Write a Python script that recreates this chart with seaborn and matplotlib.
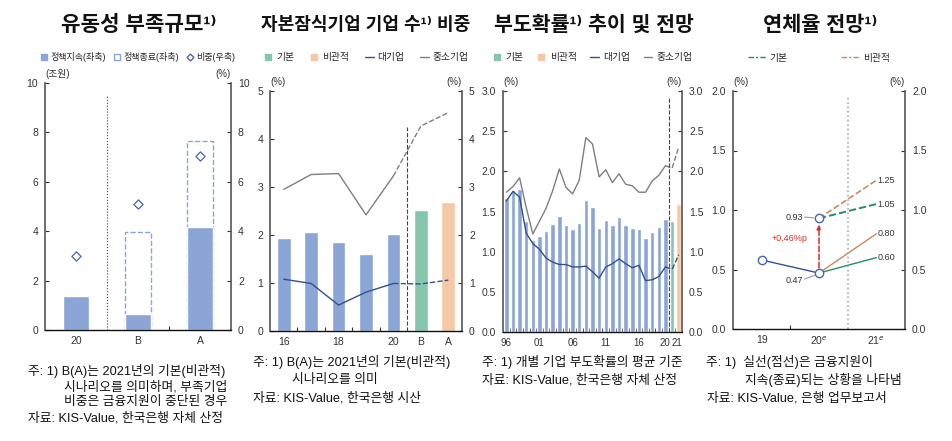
import numpy as np
import matplotlib
matplotlib.use('Agg')
import matplotlib.pyplot as plt
from matplotlib.lines import Line2D
import seaborn as sns

# 패널 1: 유동성 부족규모
p1_cats = ['20', 'B', 'A']
p1_keep = [1.38, 0.63, 4.18]      # 정책지속(좌축)
p1_stop = [3.95, 7.65]            # 정책종료(좌축), B·A
p1_share = [3.0, 5.12, 7.05]      # 비중(우축)

# 패널 2: 자본잠식기업 기업 수 비중
p2_cats = ['16', '17', '18', '19', '20', 'B', 'A']
p2_bars = [1.94, 2.06, 1.85, 1.60, 2.03, 2.52, 2.69]
p2_large = [1.08, 0.99, 0.54, 0.81, 0.99, 0.98, 1.06]
p2_sme = [2.95, 3.26, 3.28, 2.42, 3.23, 4.27, 4.55]

# 패널 3: 부도확률 추이 및 전망 (1996~2020, 2021 기본, 2021 비관적)
p3_years = [str(y) for y in range(1996, 2021)] + ['2021기본', '2021비관']
p3_bars = [1.67, 1.77, 1.78, 1.38, 1.15, 1.20, 1.26, 1.34, 1.45, 1.33,
           1.28, 1.36, 1.64, 1.55, 1.29, 1.40, 1.33, 1.43, 1.33, 1.30,
           1.28, 1.17, 1.24, 1.31, 1.41, 1.38, 1.59]
p3_large = [1.63, 1.75, 1.68, 1.23, 1.10, 1.03, 0.92, 0.87, 0.84, 0.84,
            0.81, 0.81, 0.82, 0.75, 0.67, 0.81, 0.85, 0.91, 0.85, 0.80,
            0.83, 0.64, 0.65, 0.69, 0.81, 0.78, 0.96]
p3_sme = [1.74, 1.81, 1.92, 1.55, 1.22, 1.38, 1.54, 1.76, 2.03, 1.80,
          1.72, 1.89, 2.42, 2.34, 1.93, 2.02, 1.86, 1.97, 1.84, 1.82,
          1.74, 1.74, 1.88, 1.95, 2.07, 2.04, 2.30]
p3_ticklabels = ['96', '01', '06', '11', '16', '20', '21']

# 패널 4: 연체율 전망
p4_cats = ['19', '20$^{e}$', '21$^{e}$']
p4_actual = [0.58, 0.47]
p4_end20 = 0.93
p4_base = [0.60, 1.05]   # 실선(지속), 점선(종료)
p4_pess = [0.80, 1.25]

BLUE = '#8aa5d6'
GREEN = '#86c5ae'
ORANGE = '#f6c9a6'
NAVY = '#34508f'
GRAY = '#7f7f7f'
TEAL = '#2a8a6c'
BROWN = '#c98a5c'

sns.set_theme(style='white')
plt.rcParams['font.family'] = ['Liberation Sans', 'Noto Sans CJK KR', 'DejaVu Sans']
plt.rcParams['axes.unicode_minus'] = False

fig = plt.figure(figsize=(9.53, 4.41), dpi=100)
W, H = 953, 441


def make_ax(l, r, b, t):
    return fig.add_axes([l / W, 1 - b / H, (r - l) / W, (b - t) / H])


def style_ax(ax, ymax, step, fmt):
    ax.set_ylim(0, ymax)
    ticks = np.arange(0, ymax + step / 2, step)
    ax.set_yticks(ticks)
    ax.set_yticklabels([fmt.format(v) for v in ticks])
    ax.tick_params(axis='y', which='both', direction='in', length=3, width=0.8,
                   left=True, right=True, labelleft=True, labelright=True,
                   labelsize=7.5, pad=5, colors='#333333')
    ax.tick_params(axis='x', which='major', length=0, labelsize=7.5, pad=4, colors='#333333')
    ax.tick_params(axis='x', which='minor', direction='in', length=3, width=0.8,
                   bottom=True, color='#333333')
    for s in ['left', 'right']:
        ax.spines[s].set_visible(True)
        ax.spines[s].set_color('#555555')
        ax.spines[s].set_linewidth(1.2)
    ax.spines['bottom'].set_color('#111111')
    ax.spines['bottom'].set_linewidth(1.0)
    ax.spines['top'].set_visible(False)
    ax.set_xlabel('')
    ax.set_ylabel('')
    ax.grid(False)


def unit_labels(ax, left='(%)', right='(%)'):
    ax.text(0.0, 1.015, left, transform=ax.transAxes, fontsize=7, ha='left', va='bottom', color='#333333')
    ax.text(1.0, 1.015, right, transform=ax.transAxes, fontsize=7, ha='right', va='bottom', color='#333333')


# ---------- 패널 1 ----------
ax1 = make_ax(45, 231, 330, 83)
sns.barplot(x=p1_cats[1:], y=p1_stop, order=p1_cats, fill=False, color=BLUE,
            linestyle='--', linewidth=1.0, width=0.42, ax=ax1, saturation=1)
sns.barplot(x=p1_cats, y=p1_keep, order=p1_cats, color=BLUE, width=0.42,
            ax=ax1, saturation=1)
sns.scatterplot(x=[0, 1, 2], y=p1_share, marker='D', s=22, facecolor='white',
                edgecolor='#4a66a8', linewidth=0.9, ax=ax1, zorder=5)
ax1.vlines(0.5, 0, 9.5, colors='#444444', linestyles=':', linewidth=0.8)
ax1.set_xlim(-0.5, 2.5)
ax1.set_xticks([0, 1, 2])
ax1.set_xticklabels(p1_cats)
ax1.set_xticks([1.5], minor=True)
style_ax(ax1, 10, 2, '{:.0f}')
unit_labels(ax1, '(조원)', '(%)')
h1 = [Line2D([], [], marker='s', ls='', color=BLUE, markersize=4.5),
      Line2D([], [], marker='s', ls='', markerfacecolor='white', markeredgecolor=BLUE, markersize=4.5),
      Line2D([], [], marker='D', ls='', markerfacecolor='white', markeredgecolor='#4a66a8', markersize=3.5)]
ax1.legend(h1, ['정책지속(좌축)', '정책종료(좌축)', '비중(우축)'], loc='center',
           bbox_to_anchor=(0.5, 1.105), ncol=3, frameon=False, fontsize=6.5,
           handlelength=0.8, handletextpad=0.3, columnspacing=0.8)

# ---------- 패널 2 ----------
ax2 = make_ax(270, 462, 331, 91)
p2_colors = [BLUE] * 5 + [GREEN, ORANGE]
sns.barplot(x=p2_cats, y=p2_bars, hue=p2_cats, palette=p2_colors, legend=False,
            width=0.5, ax=ax2, saturation=1)
x2 = np.arange(len(p2_cats))
sns.lineplot(x=x2[:5], y=p2_sme[:5], color=GRAY, lw=1.0, ax=ax2)
sns.lineplot(x=x2[4:], y=p2_sme[4:], color=GRAY, lw=1.0, linestyle='--', ax=ax2)
sns.lineplot(x=x2[:5], y=p2_large[:5], color=NAVY, lw=1.0, ax=ax2)
sns.lineplot(x=x2[4:], y=p2_large[4:], color=NAVY, lw=1.0, linestyle='--', ax=ax2)
ax2.vlines(4.5, 0, 4.25, colors='#444444', linestyles='--', linewidth=0.8)
ax2.set_xlim(-0.5, 6.5)
ax2.set_xticks([0, 2, 4, 5, 6])
ax2.set_xticklabels(['16', '18', '20', 'B', 'A'])
ax2.set_xticks([0.5, 1.5, 2.5, 3.5], minor=True)
style_ax(ax2, 5, 1, '{:.0f}')
unit_labels(ax2)

# ---------- 패널 3 ----------
ax3 = make_ax(503, 682, 332, 91)
p3_colors = [BLUE] * 25 + [GREEN, ORANGE]
sns.barplot(x=p3_years, y=p3_bars, hue=p3_years, palette=p3_colors, legend=False,
            width=0.68, ax=ax3, saturation=1)
x3 = np.arange(len(p3_years))
sns.lineplot(x=x3[:25], y=p3_sme[:25], color=GRAY, lw=1.0, ax=ax3)
sns.lineplot(x=x3[24:], y=p3_sme[24:], color=GRAY, lw=1.0, linestyle='--', ax=ax3)
sns.lineplot(x=x3[:25], y=p3_large[:25], color=NAVY, lw=1.0, ax=ax3)
sns.lineplot(x=x3[24:], y=p3_large[24:], color=NAVY, lw=1.0, linestyle='--', ax=ax3)
ax3.vlines(24.5, 0, 2.92, colors='#444444', linestyles='--', linewidth=0.8, clip_on=False)
ax3.set_xlim(-0.5, 26.5)
ax3.set_xticks([0, 5, 10, 15, 20, 23.9, 25.8])
ax3.set_xticklabels(p3_ticklabels)
ax3.set_xticks(np.arange(0.5, 26, 1), minor=True)
style_ax(ax3, 3.0, 0.5, '{:.1f}')
ax3.tick_params(axis='x', which='major', labelsize=7)
unit_labels(ax3)

h23 = [Line2D([], [], marker='s', ls='', color=GREEN, markersize=4),
       Line2D([], [], marker='s', ls='', color=ORANGE, markersize=4),
       Line2D([], [], color=NAVY, lw=1.0),
       Line2D([], [], color=GRAY, lw=1.0)]
lab23 = ['기본', '비관적', '대기업', '중소기업']
ax2.legend(h23, lab23, loc='center', bbox_to_anchor=(0.5, 1.14), ncol=4,
           frameon=False, fontsize=7, handlelength=0.9, handletextpad=0.4, columnspacing=1.6)
ax3.legend(h23, lab23, loc='center', bbox_to_anchor=(0.5, 1.14), ncol=4,
           frameon=False, fontsize=7, handlelength=0.9, handletextpad=0.4, columnspacing=1.4)

# ---------- 패널 4 ----------
ax4 = make_ax(733, 905, 329, 91)
sns.lineplot(x=[0, 1], y=p4_actual, color=NAVY, lw=1.0, ax=ax4)
sns.lineplot(x=[1, 2], y=[p4_actual[1], p4_base[0]], color=TEAL, lw=1.0, ax=ax4)
sns.lineplot(x=[1, 2], y=[p4_actual[1], p4_pess[0]], color=BROWN, lw=1.0, ax=ax4)
sns.lineplot(x=[1, 2], y=[p4_end20, p4_base[1]], color=TEAL, lw=1.4, linestyle='--', ax=ax4)
sns.lineplot(x=[1, 2], y=[p4_end20, p4_pess[1]], color=BROWN, lw=1.2, linestyle='--', ax=ax4)
ax4.annotate('', xy=(1, p4_end20 - 0.03), xytext=(1, p4_actual[1] + 0.02),
             arrowprops=dict(arrowstyle='-|>', color='#e02a2a', lw=1.1, ls='--',
                             mutation_scale=6))
sns.scatterplot(x=[0, 1, 1], y=p4_actual + [p4_end20], marker='o', s=36,
                facecolor='white', edgecolor='#4a66a8', linewidth=1.0, ax=ax4, zorder=6)
ax4.text(0.49, 0.76, '+{:.2f}%p'.format(p4_end20 - p4_actual[1]), color='#e02a2a',
         fontsize=6.5, ha='center', va='center')
ax4.plot([0.75, 0.9], [0.94, 0.935], color='#999999', lw=0.8)
ax4.text(0.73, 0.94, '{:.2f}'.format(p4_end20), fontsize=6.5, ha='right', va='center', color='#333333')
ax4.plot([0.75, 0.92], [0.42, 0.45], color='#999999', lw=0.8)
ax4.text(0.73, 0.41, '{:.2f}'.format(p4_actual[1]), fontsize=6.5, ha='right', va='center', color='#333333')
for v in p4_base + p4_pess:
    ax4.text(2.02, v, '{:.2f}'.format(v), fontsize=6.5, ha='left', va='center', color='#333333')
ax4.vlines(1.5, 0, 1.96, colors='#aaaaaa', linestyles=':', linewidth=1.2)
ax4.set_xlim(-0.5, 2.5)
ax4.set_xticks([0, 1, 2])
ax4.set_xticklabels(p4_cats)
ax4.set_xticks([0.5], minor=True)
style_ax(ax4, 2.0, 0.5, '{:.1f}')
unit_labels(ax4)
h4 = [Line2D([], [], color=TEAL, lw=1.0, ls=(0, (4, 1.5, 1.5, 1.5))),
      Line2D([], [], color=BROWN, lw=1.0, ls=(0, (4, 1.5, 1.5, 1.5)))]
ax4.legend(h4, ['기본', '비관적'], loc='center', bbox_to_anchor=(0.5, 1.14), ncol=2,
           frameon=False, fontsize=7, handlelength=1.8, handletextpad=0.4, columnspacing=5.5)

# ---------- 제목 ----------
titles = [(139, '유동성 부족규모¹⁾', 15.3), (366, '자본잠식기업 기업 수¹⁾ 비중', 13),
          (594, '부도확률¹⁾ 추이 및 전망', 14.8), (820, '연체율 전망¹⁾', 15)]
for cx, t, fs in titles:
    fig.text(cx / W, 1 - 25 / H, t, fontsize=fs, fontweight='bold', ha='center',
             va='center', color='#111111')

# ---------- 주석 ----------
note_fs = 9.2


def note(x, y, s):
    fig.text(x / W, 1 - y / H, s, fontsize=note_fs, ha='left', va='center', color='#111111')


note(28, 371, '주: 1) B(A)는 2021년의 기본(비관적)')
note(64, 387, '시나리오를 의미하며, 부족기업')
note(64, 402, '비중은 금융지원이 중단된 경우')
note(28, 418, '자료: KIS-Value, 한국은행 자체 산정')

note(253, 362, '주: 1) B(A)는 2021년의 기본(비관적)')
note(292, 380, '시나리오를 의미')
note(253, 398, '자료: KIS-Value, 한국은행 시산')

note(482, 362, '주: 1) 개별 기업 부도확률의 평균 기준')
note(482, 380, '자료: KIS-Value, 한국은행 자체 산정')

note(706, 362, '주: 1)  실선(점선)은 금융지원이')
note(745, 380, '지속(종료)되는 상황을 나타냄')
note(707, 398, '자료: KIS-Value, 은행 업무보고서')

fig.savefig('out.png', dpi=100, facecolor='white')
